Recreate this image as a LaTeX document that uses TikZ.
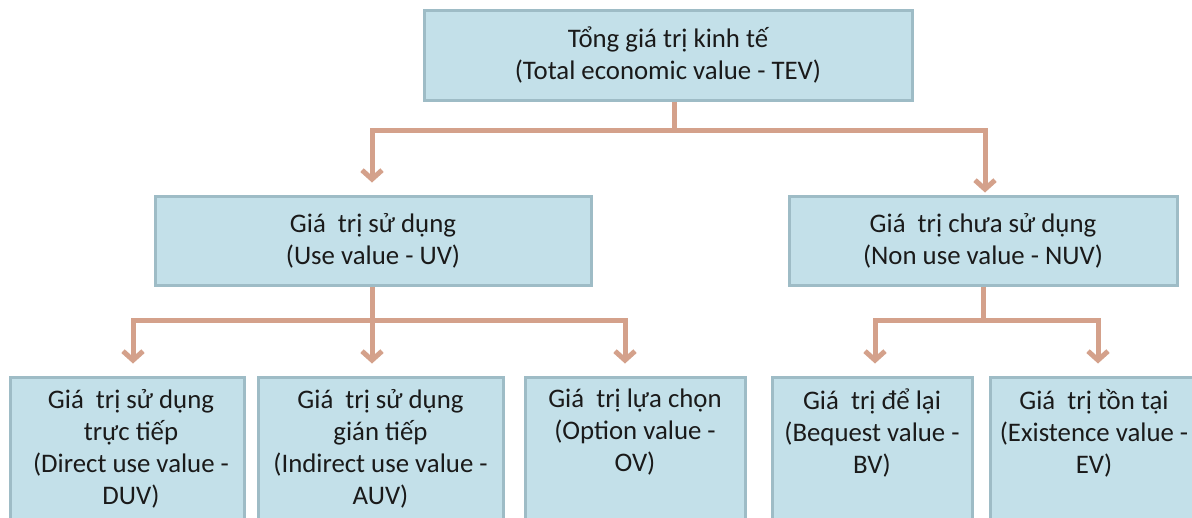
\documentclass[tikz,border=0pt]{standalone}
\usepackage{fontspec}
\setmainfont{Carlito}
\usetikzlibrary{arrows.meta}
\definecolor{boxfill}{HTML}{C3E0E9}
\definecolor{boxline}{HTML}{9EBCC6}
\definecolor{arrcol}{HTML}{D4A18B}
\definecolor{txt}{HTML}{1A1A1A}
\begin{document}
\begin{tikzpicture}[x=1pt,y=-1pt,
  box/.style={draw=boxline, fill=boxfill, line width=3pt, rectangle, inner sep=0pt,
    text=txt, align=center, font=\fontsize{26.8}{32}\selectfont},
  lbl/.style={text=txt, align=center, font=\fontsize{26.8}{32}\selectfont, inner sep=0pt, anchor=north},
  conn/.style={draw=arrcol, line width=5pt},
  arr/.style={conn, -{Straight Barb[length=9pt,width=20pt]}}]
\useasboundingbox (0,0) rectangle (1192,517);
\clip (0,0) rectangle (1192,517);
% top
\node[box, minimum width=488pt, minimum height=90pt] (tev) at (668,55)
  {Tổng giá trị kinh tế\\(Total economic value - TEV)};
% middle
\node[box, minimum width=436pt, minimum height=89pt] (uv) at (373,240.5)
  {Giá\ \ trị sử dụng\\(Use value - UV)};
\node[box, minimum width=388pt, minimum height=89pt] (nuv) at (983,240.5)
  {Giá\ \ trị chưa sử dụng\\(Non use value - NUV)};
% bottom boxes
\node[box, minimum width=234pt, minimum height=168pt] (b1) at (127,461) {};
\node[box, minimum width=245pt, minimum height=168pt] (b2) at (380.5,461) {};
\node[box, minimum width=220pt, minimum height=168pt] (b3) at (635,461) {};
\node[box, minimum width=200pt, minimum height=168pt] (b4) at (872,461) {};
\node[box, minimum width=210pt, minimum height=168pt] (b5) at (1095,461) {};
\node[lbl] (l1) at (131,389) {Giá\ \ trị sử dụng\\trực tiếp\\(Direct use value -\\DUV)};
\node[lbl] (l2) at (380.5,389) {Giá\ \ trị sử dụng\\gián tiếp\\(Indirect use value -\\AUV)};
\node[lbl] (l3) at (635,389) {Giá\ \ trị lựa chọn\\(Option value -\\OV)};
\node[lbl] (l4) at (872,389) {Giá\ \ trị để lại\\(Bequest value -\\BV)};
\node[lbl] (l5) at (1094,389) {Giá\ \ trị tồn tại\\(Existence value -\\EV)};
% connectors
\coordinate (j1) at (674,130);
\coordinate (j2) at (372,320);
\coordinate (j3) at (983,320);
\draw[conn] (tev.south -| j1) -- (j1);
\draw[arr] (j1) -| ([xshift=-1pt,yshift=12pt]uv.north);
\draw[arr] (j1) -| ([xshift=2pt,yshift=2pt]nuv.north);
\draw[conn] (uv.south -| j2) -- (j2);
\draw[arr] (j2) -| ([xshift=6pt,yshift=12pt]b1.north);
\draw[arr] (j2) -| ([xshift=-8.5pt,yshift=12pt]b2.north);
\draw[arr] (j2) -| ([xshift=-10pt,yshift=12pt]b3.north);
\draw[conn] (nuv.south -| j3) -- (j3);
\draw[arr] (j3) -| ([xshift=3pt,yshift=12pt]b4.north);
\draw[arr] (j3) -| ([xshift=3pt,yshift=12pt]b5.north);
\end{tikzpicture}
\end{document}
